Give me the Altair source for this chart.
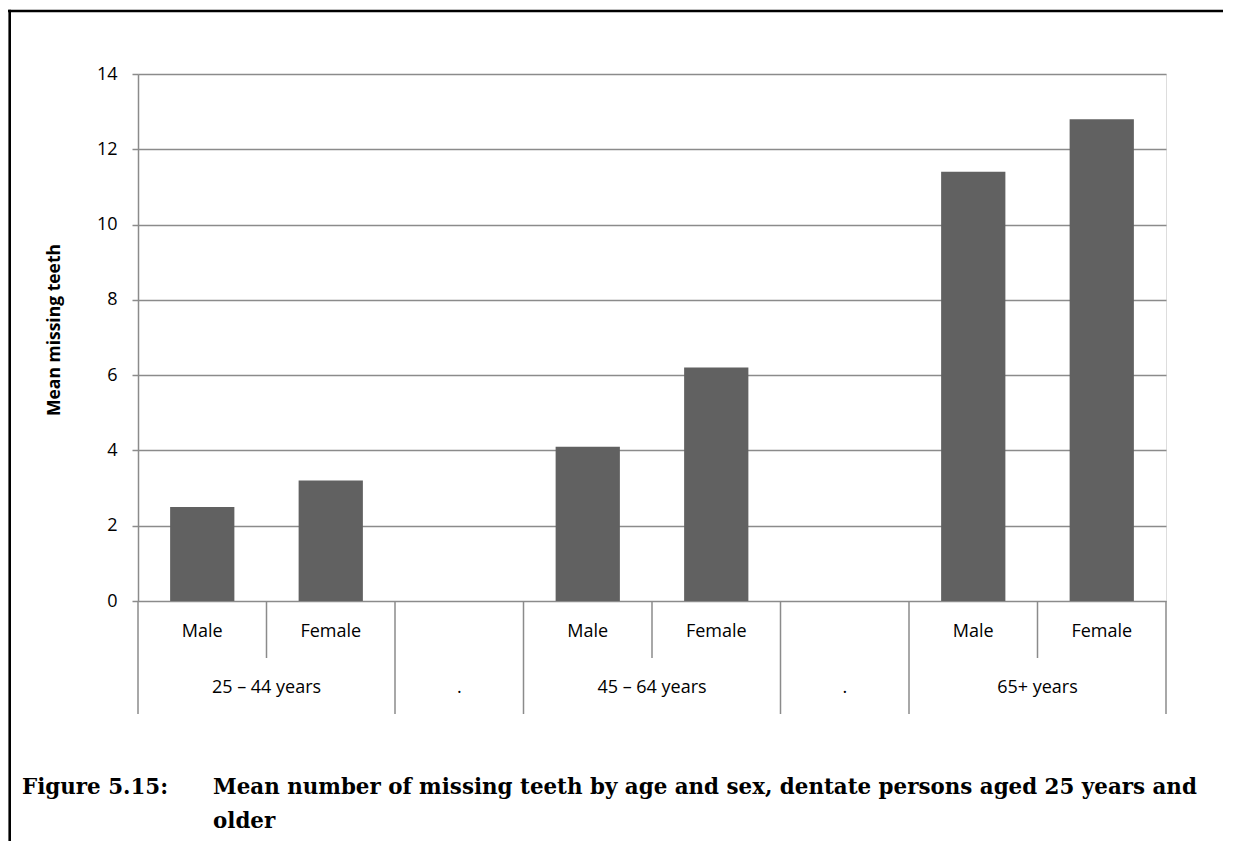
import altair as alt
import pandas as pd

# ---- data ----
sex_labels = ["Male", "Female", "", "Male", "Female", "", "Male", "Female"]
age_of_slot = ["25 – 44 years", "25 – 44 years", ".", "45 – 64 years",
               "45 – 64 years", ".", "65+ years", "65+ years"]
mean_missing = [2.5, 3.2, None, 4.1, 6.2, None, 11.4, 12.8]
y_ticks = [0, 2, 4, 6, 8, 10, 12, 14]

y_title = "Mean missing teeth"
caption_label = "Figure 5.15:"
caption_line1 = "Mean number of missing teeth by age and sex, dentate persons aged 25 years and"
caption_line2 = "older"

GRAY = "#8b8b8b"
SANS = "Open Sans"
SERIF = "DejaVu Serif"

# ---- derived tables ----
n = len(sex_labels)
slots = pd.DataFrame({
    "slot": list(range(n)),
    "sex": sex_labels,
    "age": age_of_slot,
    "value": mean_missing,
})
slots["center"] = slots["slot"] + 0.5
slots["left"] = slots["slot"] + 0.25
slots["right"] = slots["slot"] + 0.75
bars = slots.dropna(subset=["value"])
sex_text = slots[slots["sex"] != ""]

# age-group runs
groups = []
start = 0
for i in range(1, n + 1):
    if i == n or age_of_slot[i] != age_of_slot[start]:
        groups.append({"age": age_of_slot[start], "center": (start + i) / 2.0})
        start = i
groups = pd.DataFrame(groups)

long_b, short_b = [], []
for k in range(n + 1):
    if k == 0 or k == n or age_of_slot[k - 1] != age_of_slot[k]:
        long_b.append(k)
    else:
        short_b.append(k)
long_df = pd.DataFrame({"b": long_b})
short_df = pd.DataFrame({"b": short_b})
one = pd.DataFrame({"k": [0]})

W, H = 1028, 527
xs = alt.Scale(domain=[0, n], nice=False, zero=False)
ys = alt.Scale(domain=[0, 14], nice=False)

bar_layer = alt.Chart(bars).mark_bar(color="#616161").encode(
    x=alt.X("left:Q", scale=xs, axis=None),
    x2="right:Q",
    y=alt.Y("value:Q", scale=ys, axis=alt.Axis(
        values=y_ticks, title=None, grid=True, gridColor=GRAY, gridWidth=1.5,
        domainColor=GRAY, domainWidth=1.5, tickColor=GRAY, tickWidth=1.5,
        tickSize=6, labelFont=SANS, labelFontSize=18, labelColor="black",
        labelPadding=15)),
    y2=alt.datum(0),
)

long_rules = alt.Chart(long_df).mark_rule(color=GRAY, strokeWidth=1.5).encode(
    x=alt.X("b:Q", scale=xs), y=alt.value(H), y2=alt.value(640))
short_rules = alt.Chart(short_df).mark_rule(color=GRAY, strokeWidth=1.5).encode(
    x=alt.X("b:Q", scale=xs), y=alt.value(H), y2=alt.value(584))

sex_layer = alt.Chart(sex_text).mark_text(
    font=SANS, fontSize=18, color="black", baseline="alphabetic").encode(
    x=alt.X("center:Q", scale=xs), y=alt.value(563), text="sex:N")
age_layer = alt.Chart(groups).mark_text(
    font=SANS, fontSize=18, color="black", baseline="alphabetic").encode(
    x=alt.X("center:Q", scale=xs), y=alt.value(619), text="age:N")

title_layer = alt.Chart(one).mark_text(
    font=SANS, fontSize=17.5, fontWeight="bold", color="black", angle=270,
    baseline="middle", align="center").encode(
    x=alt.value(-83), y=alt.value(256), text=alt.value(y_title))

cap_style = dict(font=SERIF, fontSize=21.4, fontWeight="bold", color="black",
                 align="left", baseline="alphabetic")
cap_a = alt.Chart(one).mark_text(**cap_style).encode(
    x=alt.value(22 - 138), y=alt.value(794 - 74), text=alt.value(caption_label))
cap_b = alt.Chart(one).mark_text(**cap_style).encode(
    x=alt.value(213 - 138), y=alt.value(794 - 74), text=alt.value(caption_line1))
cap_c = alt.Chart(one).mark_text(**cap_style).encode(
    x=alt.value(213 - 138), y=alt.value(828 - 74), text=alt.value(caption_line2))

frame_top = alt.Chart(one).mark_rule(color="black", strokeWidth=2.6).encode(
    x=alt.value(-130), x2=alt.value(1200), y=alt.value(-63))
frame_left = alt.Chart(one).mark_rule(color="black", strokeWidth=2.6).encode(
    x=alt.value(-128.3), y=alt.value(-64.3), y2=alt.value(800))

chart = alt.layer(
    bar_layer, long_rules, short_rules, sex_layer, age_layer, title_layer,
    cap_a, cap_b, cap_c, frame_top, frame_left,
).properties(
    width=W, height=H,
    autosize=alt.AutoSizeParams(type="none"),
    padding={"left": 130, "top": 66, "right": 57, "bottom": 240},
).configure_view(
    stroke=GRAY, strokeWidth=1.5
).configure(background="white")

chart.save("out.html", embed_options={"renderer": "svg", "actions": False})
